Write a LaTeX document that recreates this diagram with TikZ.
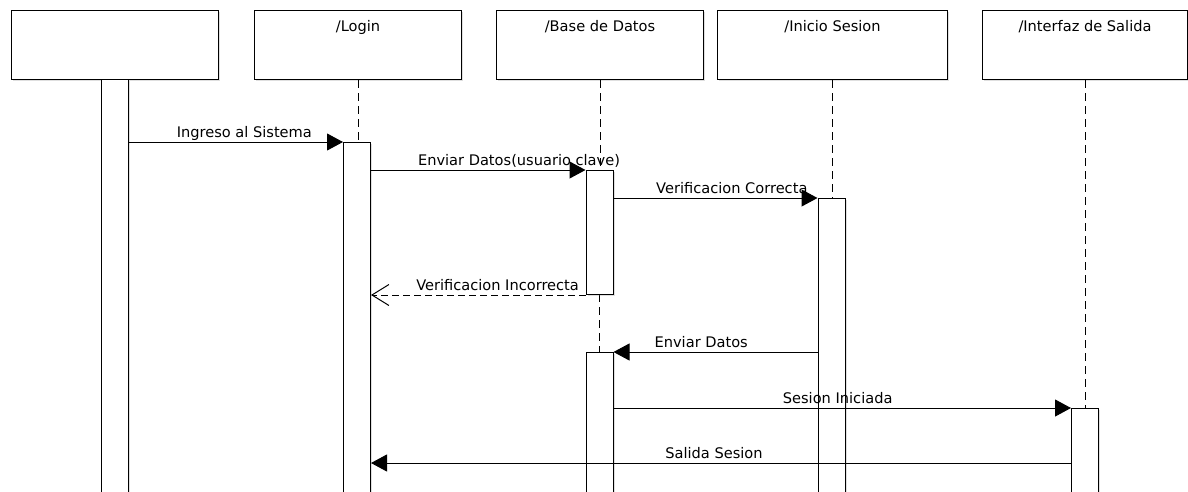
\documentclass[tikz,border=0pt]{standalone}
\usepackage{fontspec}
\setmainfont{DejaVu Sans}
\usetikzlibrary{arrows.meta,positioning,shadows}

\begin{document}
\begin{tikzpicture}[
  x=1pt, y=-1pt,
  font=\fontsize{14.6}{17}\selectfont,
  objbox/.style={rectangle, draw, fill=white, line width=1pt, minimum height=69pt,
                 anchor=north west, inner sep=0pt,
                 drop shadow={shadow xshift=1.5pt, shadow yshift=-1.5pt, opacity=0.25}},
  objtitle/.style={anchor=north, yshift=-10pt, inner sep=0pt},
  actbar/.style={rectangle, draw, fill=white, line width=1pt, minimum width=27pt,
                 minimum height=#1, anchor=north, inner sep=0pt,
                 drop shadow={shadow xshift=1.5pt, shadow yshift=-1.5pt, opacity=0.25}},
  lifeline/.style={line width=1pt, dash pattern=on 8pt off 5pt},
  callmsg/.style={line width=1pt, -{Triangle[length=16pt, width=17pt]}},
  replymsg/.style={line width=1pt, dash pattern=on 7pt off 4pt,
                   -{Straight Barb[length=17pt, width=21pt, line width=1pt]}},
  msglabel/.style={anchor=base, yshift=4.5pt, inner sep=0pt}
]
\clip (0,0) rectangle (1188,491);

% Objects
\node[objbox, minimum width=207pt] (actor) at (11,10) {};
\node[objbox, minimum width=207pt, label={[objtitle]north:/Login}] (login) at (254,10) {};
\node[objbox, minimum width=207pt, label={[objtitle]north:/Base de Datos}] (base) at (496,10) {};
\node[objbox, minimum width=230pt, label={[objtitle]north:/Inicio Sesion}] (inicio) at (717,10) {};
\node[objbox, minimum width=205pt, label={[objtitle]north:/Interfaz de Salida}] (salida) at (982,10) {};

% Lifelines
\coordinate (lLogin) at (357,142);
\coordinate (lBase1) at (599.5,170);
\coordinate (lBase1end) at (599.5,294);
\coordinate (lBase2) at (599.5,352);
\coordinate (lInicio) at (831.5,198);
\coordinate (lSalida) at (1085,408);
\draw[lifeline] (login.south) -- (login.south |- lLogin);
\draw[lifeline] (base.south) -- (base.south |- lBase1);
\draw[lifeline] (lBase1end) -- (lBase2);
\draw[lifeline] (inicio.south) -- (inicio.south |- lInicio);
\draw[lifeline] (salida.south) -- (salida.south |- lSalida);

% Activation bars
\node[actbar=420pt] (bActor) at (114.5,79) {};
\node[actbar=360pt] (bLogin) at (lLogin) {};
\node[actbar=124pt] (bBase1) at (lBase1) {};
\node[actbar=300pt] (bInicio) at (lInicio) {};
\node[actbar=150pt] (bBase2) at (lBase2) {};
\node[actbar=100pt] (bSalida) at (lSalida) {};
\coordinate (salidaEnd) at ([yshift=-55pt]bSalida.north west);

% Messages
\draw[callmsg] (bActor.east |- bLogin.north) -- node[msglabel, pos=0.54]{Ingreso al Sistema} (bLogin.north west);
\draw[callmsg] (bLogin.east |- bBase1.north) -- node[msglabel, pos=0.69]{Enviar Datos(usuario clave)} (bBase1.north west);
\draw[callmsg] (bBase1.east |- bInicio.north) -- node[msglabel, pos=0.58]{Verificacion Correcta} (bInicio.north west);
\draw[replymsg] (bBase1.south west) -- node[msglabel, pos=0.41]{Verificacion Incorrecta} (bLogin.east |- bBase1.south);
\draw[callmsg] (bInicio.west |- bBase2.north) -- node[msglabel, pos=0.57]{Enviar Datos} (bBase2.north east);
\draw[callmsg] (bBase2.east |- bSalida.north) -- node[msglabel, pos=0.49]{Sesion Iniciada} (bSalida.north west);
\draw[callmsg] (salidaEnd) -- node[msglabel, pos=0.51]{Salida Sesion} (bLogin.east |- salidaEnd);

\end{tikzpicture}
\end{document}
